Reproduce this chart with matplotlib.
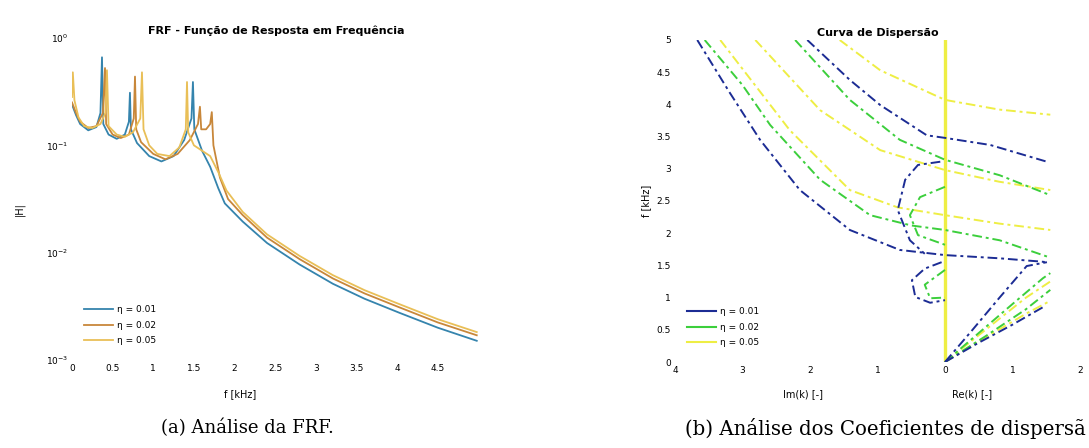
import matplotlib
matplotlib.use("Agg")
import matplotlib.pyplot as plt
from matplotlib.ticker import FixedLocator, FuncFormatter, LogLocator

# ---------------- FRF data (frequency in kHz, |H|) ----------------
freq_b = [0.00, 0.05, 0.10, 0.20, 0.30, 0.35, 0.369, 0.385, 0.45, 0.55, 0.65, 0.70, 0.713, 0.725,
          0.80, 0.95, 1.10, 1.25, 1.38, 1.47, 1.488, 1.505, 1.60, 1.70, 1.80, 1.88, 2.10, 2.40,
          2.80, 3.21, 3.60, 4.03, 4.50, 4.98]
mag_b = [0.240, 0.191, 0.158, 0.138, 0.148, 0.200, 0.661, 0.158, 0.126, 0.115, 0.126, 0.166, 0.309, 0.141,
         0.105, 0.0794, 0.0708, 0.0794, 0.112, 0.178, 0.389, 0.141, 0.0891, 0.0631, 0.0398, 0.0288, 0.0195, 0.0123,
         0.00776, 0.00513, 0.00372, 0.00275, 0.00200, 0.00151]

freq_o = [0.00, 0.05, 0.10, 0.20, 0.30, 0.38, 0.406, 0.42, 0.50, 0.60, 0.70, 0.76, 0.775, 0.79, 0.85,
          1.00, 1.15, 1.30, 1.45, 1.55, 1.574, 1.59, 1.65, 1.70, 1.72, 1.74, 1.82, 1.92, 2.10, 2.40,
          2.80, 3.21, 3.60, 4.03, 4.50, 4.98]
mag_o = [0.251, 0.200, 0.166, 0.145, 0.151, 0.200, 0.525, 0.158, 0.126, 0.117, 0.126, 0.178, 0.437, 0.141, 0.107,
         0.0832, 0.0741, 0.0832, 0.112, 0.158, 0.229, 0.141, 0.141, 0.158, 0.204, 0.100, 0.0501, 0.0316, 0.0224, 0.0138,
         0.00871, 0.00575, 0.00417, 0.00309, 0.00224, 0.00170]

freq_y = [0.00, 0.01, 0.03, 0.08, 0.15, 0.25, 0.35, 0.41, 0.43, 0.45, 0.55, 0.65, 0.75, 0.84, 0.861, 0.88,
          0.95, 1.05, 1.20, 1.32, 1.40, 1.415, 1.43, 1.50, 1.60, 1.70, 1.80, 1.90, 2.10, 2.40, 2.80,
          3.21, 3.60, 4.03, 4.50, 4.98]
mag_y = [0.282, 0.479, 0.263, 0.182, 0.151, 0.145, 0.158, 0.200, 0.501, 0.151, 0.126, 0.120, 0.132, 0.178, 0.479, 0.141,
         0.100, 0.0832, 0.0794, 0.0955, 0.141, 0.389, 0.132, 0.100, 0.0891, 0.0794, 0.0562, 0.0380, 0.0240, 0.0148, 0.00933,
         0.00617, 0.00447, 0.00331, 0.00240, 0.00182]

frf_labels = ["η = 0.01", "η = 0.02", "η = 0.05"]
frf_colors = ["#3584ad", "#c8873a", "#e9bf57"]
frf_xticks = [0, 0.5, 1, 1.5, 2, 2.5, 3, 3.5, 4, 4.5]

# ---------------- Dispersion data (k, frequency in kHz) ----------------
# blue case
b_im1_k = [-3.67, -3.20, -2.74, -2.15, -1.41, -0.67, 0.00, 0.81, 1.41, 1.51]
b_im1_f = [5.00, 4.20, 3.45, 2.67, 2.05, 1.74, 1.66, 1.61, 1.56, 1.55]
b_im2_k = [-2.04, -1.41, -0.96, -0.27, 0.00, 0.67, 1.51]
b_im2_f = [5.00, 4.38, 3.99, 3.52, 3.48, 3.37, 3.11]
b_loop1_k = [-0.07, -0.40, -0.59, -0.70, -0.52, -0.30]
b_loop1_f = [3.11, 3.06, 2.83, 2.36, 1.89, 1.68]
b_loop2_k = [-0.05, -0.30, -0.49, -0.44, -0.22, 0.00]
b_loop2_f = [1.55, 1.45, 1.27, 1.01, 0.92, 0.96]
b_re1_k = [0.00, 0.40, 0.80, 1.21, 1.51]
b_re1_f = [0.00, 0.49, 0.99, 1.49, 1.55]
b_re2_k = [0.00, 0.50, 1.00, 1.45]
b_re2_f = [0.00, 0.30, 0.58, 0.85]
# green case
g_im1_k = [-3.56, -3.00, -2.59, -1.85, -1.11, -0.50, 0.00, 0.81, 1.56]
g_im1_f = [5.00, 4.30, 3.68, 2.83, 2.28, 2.12, 2.05, 1.89, 1.62]
g_im2_k = [-2.22, -1.41, -0.67, 0.00, 0.81, 1.56]
g_im2_f = [5.00, 4.07, 3.45, 3.14, 2.90, 2.59]
g_loop1_k = [0.00, -0.37, -0.52, -0.40, 0.00]
g_loop1_f = [2.72, 2.56, 2.28, 1.97, 1.82]
g_loop2_k = [0.00, -0.30, -0.22, 0.00]
g_loop2_f = [1.43, 1.20, 0.99, 1.00]
g_re1_k = [0.00, 0.50, 1.00, 1.45, 1.56]
g_re1_f = [0.00, 0.45, 0.90, 1.30, 1.38]
g_re2_k = [0.00, 0.60, 1.20, 1.56]
g_re2_f = [0.00, 0.40, 0.82, 1.12]
# yellow case
y_im1_k = [-3.33, -2.30, -1.41, -0.70, 0.00, 0.80, 1.56]
y_im1_f = [5.00, 3.60, 2.67, 2.40, 2.28, 2.15, 2.05]
y_im2_k = [-2.81, -1.85, -0.96, 0.00, 0.80, 1.56]
y_im2_f = [5.00, 3.91, 3.29, 2.98, 2.80, 2.67]
y_im3_k = [-1.56, -0.96, 0.00, 0.80, 1.56]
y_im3_f = [5.00, 4.53, 4.07, 3.92, 3.84]
y_re1_k = [0.00, 0.60, 1.20, 1.56]
y_re1_f = [0.00, 0.50, 1.00, 1.25]
y_re2_k = [0.00, 0.60, 1.20, 1.56]
y_re2_f = [0.00, 0.38, 0.75, 0.95]
y_vert_k = [0.00, 0.00]
y_vert_f = [0.00, 5.00]

disp_colors = ["#1c2c94", "#3ccf3c", "#eeee44"]
disp_xticks = [-4, -3, -2, -1, 0, 1, 2]
disp_yticks = [0, 0.5, 1, 1.5, 2, 2.5, 3, 3.5, 4, 4.5, 5]

W, H = 1089, 448
fig = plt.figure(figsize=(W / 100, H / 100), dpi=100)
fig.patch.set_facecolor("white")

def style(ax):
    for s in ax.spines.values():
        s.set_visible(False)
    ax.tick_params(length=0, labelsize=6.5, pad=3)

# ---------------- Left: FRF ----------------
axL = fig.add_axes([72 / W, (H - 360) / H, (480 - 72) / W, (360 - 38) / H])
style(axL)
for fr, mg, c, lab in zip([freq_b, freq_o, freq_y], [mag_b, mag_o, mag_y], frf_colors, frf_labels):
    axL.plot(fr, mg, color=c, lw=1.3, label=lab)
axL.set_yscale("log")
axL.set_ylim(1e-3, 1e0)
axL.set_xlim(0, 5.02)
axL.yaxis.set_major_locator(LogLocator(base=10, numticks=10))
axL.yaxis.set_minor_locator(FixedLocator([]))
axL.xaxis.set_major_locator(FixedLocator(frf_xticks))
axL.xaxis.set_major_formatter(FuncFormatter(lambda v, p: f"{v:g}"))
axL.set_title("FRF - Função de Resposta em Frequência", fontsize=8, fontweight="bold", pad=3)
axL.set_xlabel("f [kHz]", fontsize=7, labelpad=2)
axL.xaxis.set_label_coords((240 - 72) / (480 - 72), -0.09)
axL.set_ylabel("|H|", fontsize=7)
axL.yaxis.set_label_coords(-0.115, 0.47)
axL.legend(loc="lower left", bbox_to_anchor=(0.01, 0.02), fontsize=6.5, frameon=False,
           handlelength=3.2, handletextpad=0.4, labelspacing=0.75)

# ---------------- Right: dispersion ----------------
axR = fig.add_axes([675 / W, (H - 362) / H, (1080 - 675) / W, (362 - 40) / H])
style(axR)
ls_d = (0, (5, 2, 1.5, 2))
branches = [
    (b_im1_k, b_im1_f, 0), (b_im2_k, b_im2_f, 0), (b_loop1_k, b_loop1_f, 0), (b_loop2_k, b_loop2_f, 0),
    (b_re1_k, b_re1_f, 0), (b_re2_k, b_re2_f, 0),
    (g_im1_k, g_im1_f, 1), (g_im2_k, g_im2_f, 1), (g_loop1_k, g_loop1_f, 1), (g_loop2_k, g_loop2_f, 1),
    (g_re1_k, g_re1_f, 1), (g_re2_k, g_re2_f, 1),
    (y_im1_k, y_im1_f, 2), (y_im2_k, y_im2_f, 2), (y_im3_k, y_im3_f, 2),
    (y_re1_k, y_re1_f, 2), (y_re2_k, y_re2_f, 2),
]
for k, f, ci in branches:
    axR.plot(k, f, color=disp_colors[ci], lw=1.4, ls=ls_d, zorder=3 - ci)
axR.plot(y_vert_k, y_vert_f, color=disp_colors[2], lw=2.4, zorder=0)
for c, lab in zip(disp_colors, frf_labels):
    axR.plot([], [], color=c, lw=1.5, label=lab)
axR.set_xlim(-4, 2)
axR.set_ylim(0, 5)
axR.xaxis.set_major_locator(FixedLocator(disp_xticks))
axR.xaxis.set_major_formatter(FuncFormatter(lambda v, p: f"{abs(v):g}"))
axR.yaxis.set_major_locator(FixedLocator(disp_yticks))
axR.yaxis.set_major_formatter(FuncFormatter(lambda v, p: f"{v:g}"))
axR.set_title("Curva de Dispersão", fontsize=8, fontweight="bold", pad=3)
axR.set_ylabel("f [kHz]", fontsize=7, labelpad=4)
axR.text(-2.1, -0.1, "Im(k) [-]", transform=axR.get_xaxis_transform(), ha="center", va="center", fontsize=7)
axR.text(0.4, -0.1, "Re(k) [-]", transform=axR.get_xaxis_transform(), ha="center", va="center", fontsize=7)
axR.legend(loc="lower left", bbox_to_anchor=(0.01, 0.02), fontsize=6.5, frameon=False,
           handlelength=3.2, handletextpad=0.4, labelspacing=0.75)

# ---------------- Captions ----------------
fig.text(247 / W, 1 - 428 / H, "(a) Análise da FRF.", ha="center", va="center",
         fontsize=13, family="DejaVu Serif")
fig.text(1086 / W, 1 - 428 / H, "(b) Análise dos Coeficientes de dispersã", ha="right", va="center",
         fontsize=14.2, family="DejaVu Serif")

fig.savefig("out.png", dpi=100, facecolor="white")
